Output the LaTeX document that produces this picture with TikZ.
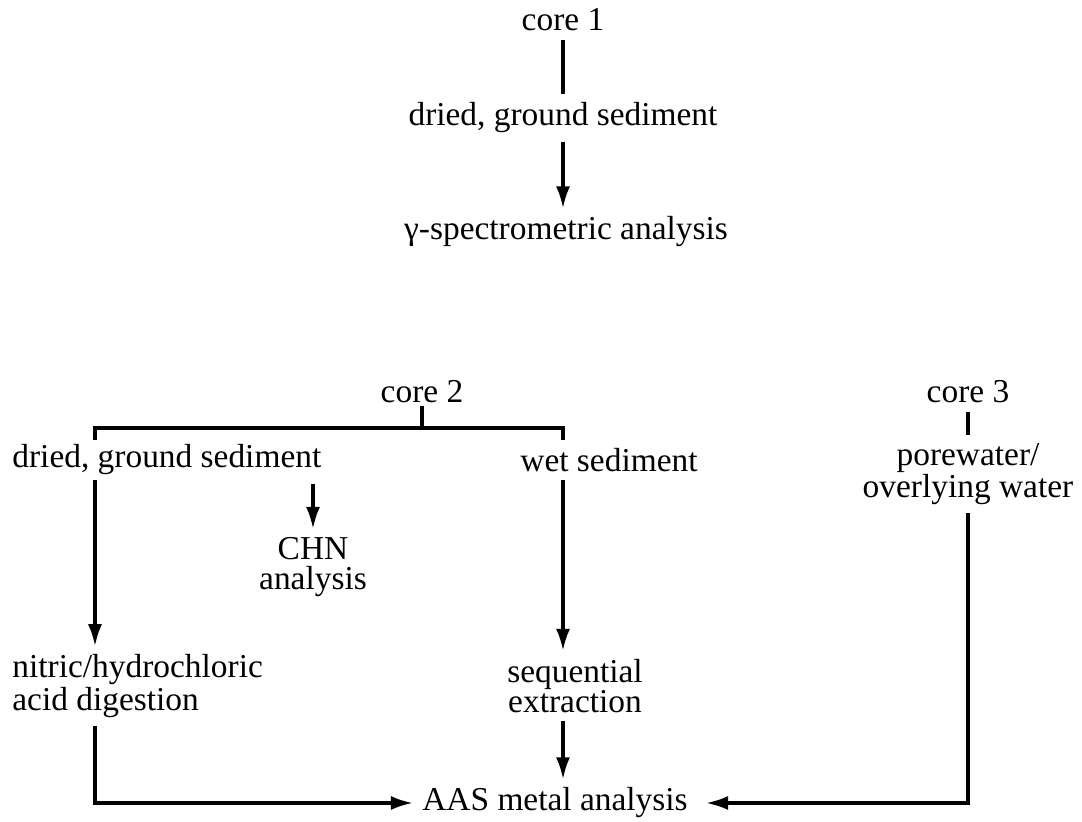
\documentclass[tikz,border=0pt]{standalone}
\usepackage{fontspec}
\setmainfont{Liberation Serif}
\usetikzlibrary{arrows.meta}

\tikzset{
  lbl/.style={inner xsep=0pt, inner ysep=4pt, align=center,
    font=\fontsize{16.7}{15}\selectfont},
  link/.style={line width=1.6pt},
  flow/.style={link, -{Latex[length=11pt,width=7pt]}},
}

\begin{document}
\begin{tikzpicture}[x=0.5pt,y=-0.5pt]
\useasboundingbox (0,0) rectangle (1082,822);

% core 1
\node[lbl] (core1) at (563,20) {core 1};
\node[lbl] (dry1) at (563,118) {dried, ground sediment};
\node[lbl] (gamma) at (566,232) {γ-spectrometric analysis};

\draw[link] (core1.south) -- (dry1.north);
\draw[flow] (dry1.south) -- (dry1.south |- gamma.north);

% core 2
\node[lbl, inner ysep=1pt] (core2) at (422,392) {core 2};
\node[lbl, anchor=west] (dry2) at (12,460) {dried, ground sediment};
\node[lbl, anchor=west] (wet) at (520,460) {wet sediment};
\node[lbl] (chn) at (313,567) {CHN\\analysis};
\node[lbl, anchor=west, align=left] (acid) at (12,686) {nitric/hydrochloric\\acid digestion};
\node[lbl] (seq) at (575,686) {sequential\\extraction};

% core 3
\node[lbl] (core3) at (968,392) {core 3};
\node[lbl] (pw) at (968,474) {porewater/\\overlying water};

\node[lbl, inner xsep=4.5pt] (aas) at (555,803) {AAS metal analysis};

\coordinate (fork) at (422,428);
\coordinate (brl) at (95,440);
\coordinate (brr) at (563,440);
\coordinate (dl) at (95,480);

\draw[link] (core2.south) -- (fork);
\draw[link] (brl) |- (fork) -| (brr);

\draw[flow] (dry2.south -| chn) -- (chn.north);
\draw[flow] (dl) -- (dl |- acid.north);
\draw[flow] (dl |- acid.south) |- (aas.west);

\draw[flow] (brr |- wet.south) -- (brr |- seq.north);
\draw[flow] (brr |- seq.south) -- (brr |- aas.north);

\draw[link] (core3.south) -- (pw.north);
\draw[flow, shorten >=4.5pt] (pw.south) |- (aas.east);

\end{tikzpicture}
\end{document}
